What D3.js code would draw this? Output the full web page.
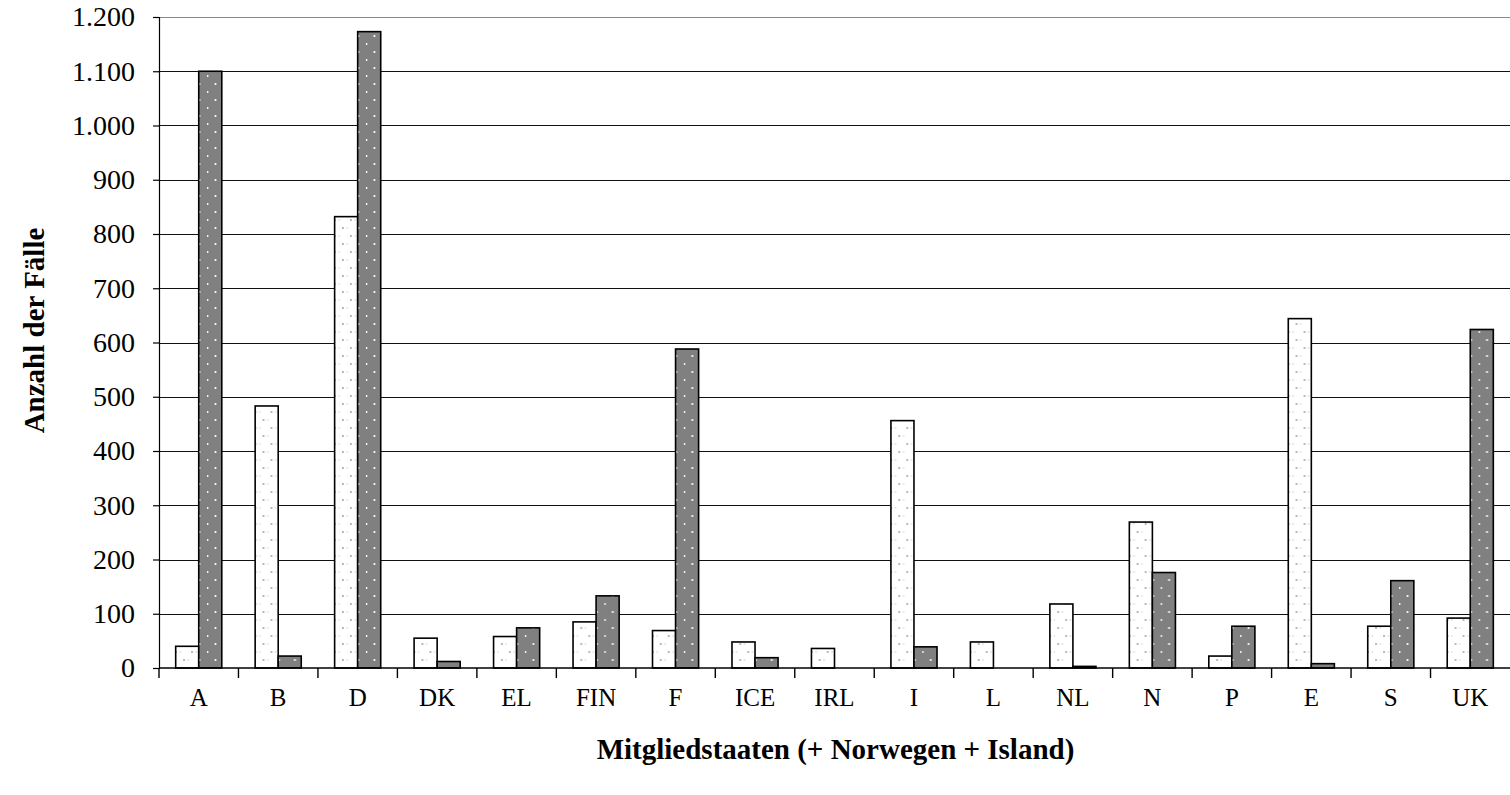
<!DOCTYPE html>
<html>
<head>
<meta charset="utf-8">
<script src="https://cdn.jsdelivr.net/npm/d3@7"></script>
<style>
  body { margin: 0; background: #fff; }
  svg { display: block; }
  text { font-family: "Liberation Serif", "Times New Roman", serif; fill: #000; }
</style>
</head>
<body>
<svg id="chart" width="1510" height="795"></svg>
<script>
// Countries on the category axis
const countries = ["A", "B", "D", "DK", "EL", "FIN", "F", "ICE", "IRL", "I", "L", "NL", "N", "P", "E", "S", "UK"];
// First series (light, dotted bars)
const seriesLight = [40, 483, 832, 55, 58, 85, 69, 48, 36, 456, 48, 118, 269, 22, 644, 77, 92];
// Second series (dark, dotted bars)
const seriesDark = [1100, 22, 1173, 12, 74, 133, 588, 19, 0, 39, 0, 3, 176, 77, 8, 161, 624];
// Value axis ticks
const yTicks = [0, 100, 200, 300, 400, 500, 600, 700, 800, 900, 1000, 1100, 1200];
const seriesKeys = ["light", "dark"];

const yLabel = "Anzahl der Fälle";
const xLabel = "Mitgliedstaaten (+ Norwegen + Island)";

const width = 1510, height = 795;
const margin = { top: 17, right: 0, bottom: 127, left: 159 };
const plotBottom = height - margin.bottom;

const svg = d3.select("#chart");

const de = d3.formatLocale({ decimal: ",", thousands: ".", grouping: [3], currency: ["", " €"] });
const fmt = de.format(",d");

const rows = countries.map((c, i) => ({ country: c, light: seriesLight[i], dark: seriesDark[i] }));

const x = d3.scaleBand().domain(countries).range([margin.left, width - margin.right]).padding(0);
const groupInset = x.step() * 0.21;
const xInner = d3.scaleBand().domain(seriesKeys).range([groupInset, x.step() - groupInset]).padding(0);
const y = d3.scaleLinear().domain([0, 1200]).range([plotBottom, margin.top]);

// Fill patterns for the two series
const defs = svg.append("defs");
const pLight = defs.append("pattern").attr("id", "pat-light")
  .attr("patternUnits", "userSpaceOnUse").attr("width", 16).attr("height", 16);
pLight.append("rect").attr("width", 16).attr("height", 16).attr("fill", "#fff");
pLight.append("circle").attr("cx", 9).attr("cy", 4).attr("r", 0.9).attr("fill", "#999");
pLight.append("circle").attr("cx", 1).attr("cy", 12).attr("r", 0.9).attr("fill", "#999");
pLight.append("rect").attr("x", 4.5).attr("y", 11.5).attr("width", 1.6).attr("height", 0.8).attr("fill", "#bbb");
pLight.append("rect").attr("x", 12.5).attr("y", 3.5).attr("width", 1.6).attr("height", 0.8).attr("fill", "#bbb");

const pDark = defs.append("pattern").attr("id", "pat-dark")
  .attr("patternUnits", "userSpaceOnUse").attr("width", 16).attr("height", 16);
pDark.append("rect").attr("width", 16).attr("height", 16).attr("fill", "#808080");
pDark.append("circle").attr("cx", 8.5).attr("cy", 4).attr("r", 1.1).attr("fill", "#fff");
pDark.append("circle").attr("cx", 0.5).attr("cy", 12).attr("r", 1.1).attr("fill", "#fff");

// Horizontal gridlines
svg.append("g").selectAll("line").data(yTicks.filter(t => t > 0)).join("line")
  .attr("x1", margin.left).attr("x2", width - margin.right)
  .attr("y1", d => Math.round(y(d)) + 0.5).attr("y2", d => Math.round(y(d)) + 0.5)
  .attr("stroke", d => d === 1200 ? "#8a8a8a" : "#111").attr("stroke-width", 1);

// Bars
const groups = svg.append("g").selectAll("g").data(rows).join("g")
  .attr("transform", d => `translate(${x(d.country)},0)`);
groups.selectAll("rect")
  .data(d => seriesKeys.map(k => ({ key: k, value: d[k] })).filter(e => e.value > 0))
  .join("rect")
  .attr("x", d => xInner(d.key))
  .attr("width", xInner.bandwidth())
  .attr("y", d => y(d.value))
  .attr("height", d => y(0) - y(d.value))
  .attr("fill", d => d.key === "light" ? "url(#pat-light)" : "url(#pat-dark)")
  .attr("stroke", "#000").attr("stroke-width", 1.6);

// Y axis
const yAxis = d3.axisLeft(y).tickValues(yTicks).tickFormat(fmt).tickSize(6).tickPadding(18);
const gy = svg.append("g").attr("transform", `translate(${margin.left},0)`).call(yAxis);
gy.select(".domain").attr("stroke", "#000").attr("stroke-width", 1.2);
gy.selectAll(".tick line").attr("stroke", "#000").attr("stroke-width", 1.2);
gy.selectAll(".tick text").style("font-family", "'Liberation Serif', serif").style("font-size", "28px").attr("fill", "#000");

// X axis: line, boundary ticks and category labels
const gx = svg.append("g");
gx.append("line").attr("x1", margin.left).attr("x2", width - margin.right)
  .attr("y1", plotBottom).attr("y2", plotBottom).attr("stroke", "#000").attr("stroke-width", 1.6);
gx.selectAll("line.tick").data(countries).join("line").attr("class", "tick")
  .attr("x1", d => x(d)).attr("x2", d => x(d))
  .attr("y1", plotBottom).attr("y2", plotBottom + 10)
  .attr("stroke", "#000").attr("stroke-width", 1.4);
gx.selectAll("text").data(countries).join("text")
  .attr("x", d => x(d) + x.bandwidth() / 2)
  .attr("y", plotBottom + 38)
  .attr("text-anchor", "middle")
  .style("font-size", "25px")
  .text(d => d);

// Axis titles
svg.append("text")
  .attr("transform", `translate(44,${(margin.top + plotBottom) / 2 - 12}) rotate(-90)`)
  .attr("text-anchor", "middle")
  .style("font-size", "29px").style("font-weight", "bold")
  .text(yLabel);

svg.append("text")
  .attr("x", (margin.left + width) / 2 + 1)
  .attr("y", 759)
  .attr("text-anchor", "middle")
  .style("font-size", "29px").style("font-weight", "bold")
  .text(xLabel);
</script>
</body>
</html>
